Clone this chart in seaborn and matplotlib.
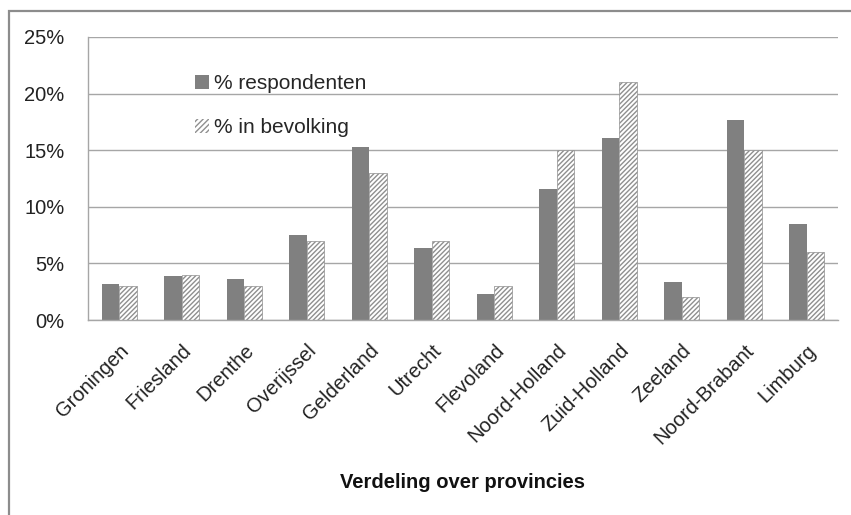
import matplotlib
matplotlib.use('Agg')
import matplotlib.pyplot as plt
import matplotlib.patches as mpatches
import seaborn as sns
import pandas as pd
import numpy as np

provinces = ['Groningen', 'Friesland', 'Drenthe', 'Overijssel', 'Gelderland', 'Utrecht',
             'Flevoland', 'Noord-Holland', 'Zuid-Holland', 'Zeeland', 'Noord-Brabant', 'Limburg']
respondenten = [3.2, 3.9, 3.6, 7.5, 15.3, 6.4, 2.3, 11.6, 16.1, 3.4, 17.7, 8.5]
bevolking = [3.0, 4.0, 3.0, 7.0, 13.0, 7.0, 3.0, 15.0, 21.0, 2.0, 15.0, 6.0]
series = ['% respondenten', '% in bevolking']

df = pd.DataFrame({
    'provincie': provinces * 2,
    'waarde': respondenten + bevolking,
    'reeks': [series[0]] * len(provinces) + [series[1]] * len(provinces),
})

sns.set_style('white')
plt.rcParams['font.family'] = ['Liberation Sans', 'DejaVu Sans']
plt.rcParams['hatch.linewidth'] = 1.0

grid_col = '#a6a6a6'
hatch_col = '#8f8f8f'
fig = plt.figure(figsize=(8.51, 5.15), dpi=100)
ax = fig.add_axes([88 / 851, 1 - 320 / 515, (838 - 88) / 851, (320 - 37) / 515])

sns.barplot(data=df, x='provincie', y='waarde', hue='reeks', hue_order=series,
            palette=['#808080', 'white'], width=0.56, saturation=1, ax=ax,
            edgecolor='none', linewidth=0)

n = len(provinces)
for i, bar in enumerate(ax.patches[:2 * n]):
    if i >= n:
        bar.set_facecolor('white')
        bar.set_edgecolor(hatch_col)
        bar.set_hatch('///////')
        bar.set_linewidth(0.5)

# legend
handles = [mpatches.Patch(facecolor='#808080', edgecolor='none'),
           mpatches.Patch(facecolor='white', edgecolor=hatch_col, hatch='//////', linewidth=0)]
ax.legend(handles, series, loc='upper left', bbox_to_anchor=(0.132, 0.897),
          frameon=False, fontsize=15, handlelength=0.65, handleheight=0.65,
          handletextpad=0.25, labelspacing=1.2, borderaxespad=0)

ax.set_ylim(0, 25)
ax.set_xlim(-0.5, n - 0.5)
ax.set_yticks(np.arange(0, 26, 5))
ax.set_yticklabels([f'{v}%' for v in range(0, 26, 5)], fontsize=14.5, color='#222222')
ax.yaxis.grid(True, color=grid_col, linewidth=1)
ax.set_axisbelow(True)

ax.set_xticks(range(n))
ax.set_xticklabels(provinces, rotation=45, ha='right', rotation_mode='anchor',
                   fontsize=14.5, color='#222222')
ax.set_xticks(np.arange(-0.5, n, 1), minor=True)
ax.tick_params(axis='x', which='major', length=0, pad=15)
ax.tick_params(axis='x', which='minor', length=7, color=grid_col, width=1, direction='out')
ax.tick_params(axis='y', which='major', length=6, color=grid_col, width=1, direction='out', pad=11)

for s in ['top', 'right']:
    ax.spines[s].set_visible(False)
for s in ['left', 'bottom']:
    ax.spines[s].set_color(grid_col)
    ax.spines[s].set_linewidth(1)

ax.set_xlabel('Verdeling over provincies', fontsize=14.5, fontweight='bold',
              color='#111111', labelpad=18)
ax.set_ylabel('')

# outer chart border (clipped at right/bottom like the reference)
border = mpatches.Rectangle((9 / 851, -0.1), 1.2, 1 - 11 / 515 + 0.1, transform=fig.transFigure,
                            fill=False, edgecolor='#8c8c8c', linewidth=1.6, clip_on=False)
fig.patches.append(border)

fig.savefig('out.png', dpi=100)
